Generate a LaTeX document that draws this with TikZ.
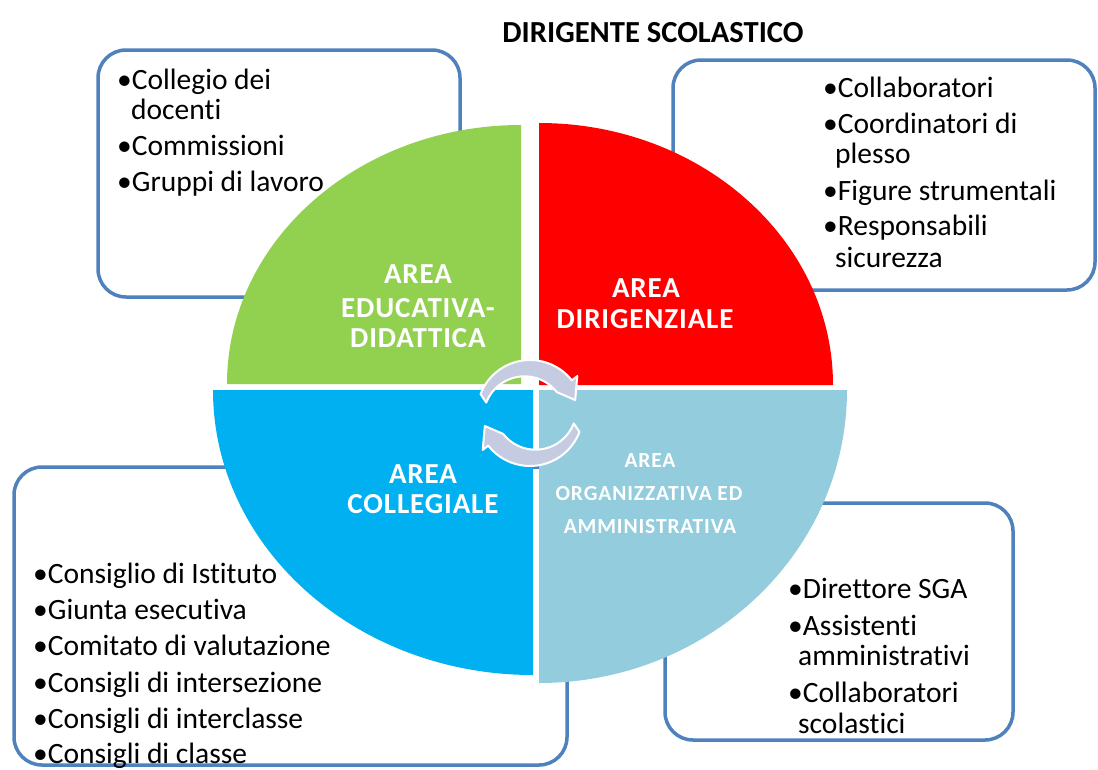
\documentclass[tikz,border=0pt]{standalone}
\usepackage{fontspec}
\setmainfont{Carlito}[Ligatures=NoCommon]
\newfontfamily\labelfont{Carlito}[LetterSpace=3, Ligatures=NoCommon]
\newfontfamily\smalllabelfont{Carlito}[LetterSpace=4, Ligatures=NoCommon]
\usetikzlibrary{calc}
\definecolor{boxblue}{HTML}{4F81BD}
\definecolor{qgreen}{HTML}{92D050}
\definecolor{qred}{HTML}{FF0000}
\definecolor{qblue}{HTML}{00B0F0}
\definecolor{qlight}{HTML}{93CDDD}
\definecolor{arrowc}{HTML}{C5CCE2}
\begin{document}
\begin{tikzpicture}[x=1pt,y=-1pt,
  infobox/.style={draw=boxblue, line width=3.5pt, rounded corners=28pt, fill=white},
  item/.style={anchor=base west, inner sep=0pt, font=\fontsize{29.5}{35}\selectfont},
  qlabel/.style={anchor=base, inner sep=0pt, text=white, font=\labelfont\bfseries\fontsize{29}{35}\selectfont},
  qsmall/.style={anchor=base, inner sep=0pt, text=white, font=\smalllabelfont\bfseries\fontsize{21.5}{26}\selectfont},
  cyclearrow/.style={fill=arrowc, draw=white, line width=2pt, line join=round}]
\useasboundingbox (0,0) rectangle (1098,769);
\fill[white] (0,0) rectangle (1098,769);

% title
\node[anchor=base, inner sep=0pt, font=\bfseries\fontsize{30.6}{36}\selectfont] (title) at (653,42) {DIRIGENTE SCOLASTICO};

% boxes
\draw[infobox] (98,50) rectangle (460,297);
\draw[infobox] (673,60) rectangle (1095,290);
\draw[infobox] (14,467) rectangle (567,765);
\draw[infobox] (665,503) rectangle (1013,740);

% quadrants
\fill[qgreen] (521,384) -- (227,384) arc[start angle=180, end angle=270, x radius=294, y radius=259] -- cycle;
\fill[qred] (539,385) -- (539,123) arc[start angle=270, end angle=360, x radius=294, y radius=262] -- cycle;
\fill[qblue] (533,390) -- (213,390) arc[start angle=180, end angle=90, x radius=320, y radius=285] -- cycle;
\fill[qlight] (539,390) -- (847,390) arc[start angle=0, end angle=90, x radius=308, y radius=293] -- cycle;

% quadrant labels
\node[qlabel] (g1) at (418,283) {AREA};
\node[qlabel] (g2) at (418,317) {EDUCATIVA-};
\node[qlabel] (g3) at (418,347) {DIDATTICA};
\node[qlabel] (r1) at (646,297) {AREA};
\node[qlabel] (r2) at (645,328) {DIRIGENZIALE};
\node[qlabel] (b1) at (423,483) {AREA};
\node[qlabel] (b2) at (423,513) {COLLEGIALE};
\node[qsmall] (l1) at (650,467) {AREA};
\node[qsmall] (l2) at (649,500) {ORGANIZZATIVA ED};
\node[qsmall] (l3) at (650,533) {AMMINISTRATIVA};

% cycle arrows
\coordinate (c) at (530,413);
\path[cyclearrow] ($(c)+(-159:53)$) arc[start angle=-159, end angle=-38, radius=53]
  -- ($(c)+(-38:60)$) -- ($(c)+(-16:47)$) -- ($(c)+(-38:34)$)
  arc[start angle=-38, end angle=-159, radius=41] -- cycle;
\begin{scope}[rotate around={180:(c)}]
\path[cyclearrow] ($(c)+(-159:53)$) arc[start angle=-159, end angle=-38, radius=53]
  -- ($(c)+(-38:60)$) -- ($(c)+(-16:47)$) -- ($(c)+(-38:34)$)
  arc[start angle=-38, end angle=-159, radius=41] -- cycle;
\end{scope}

% top-left items
\node[item] (tl1) at (117,89) {•Collegio dei};
\node[item] (tl2) at (131,119) {docenti};
\node[item] (tl3) at (117,155) {•Commissioni};
\node[item] (tl4) at (117,191) {•Gruppi di lavoro};

% top-right items
\node[item] (tr1) at (823,97) {•Collaboratori};
\node[item] (tr2) at (823,133) {•Coordinatori di};
\node[item] (tr3) at (835,163) {plesso};
\node[item] (tr4) at (823,200) {•Figure strumentali};
\node[item] (tr5) at (823,235) {•Responsabili};
\node[item] (tr6) at (835,267) {sicurezza};

% bottom-left items
\node[item] (bl1) at (33,583) {•Consiglio di Istituto};
\node[item] (bl2) at (33,619) {•Giunta esecutiva};
\node[item] (bl3) at (33,655) {•Comitato di valutazione};
\node[item] (bl4) at (33,692) {•Consigli di intersezione};
\node[item] (bl5) at (33,728) {•Consigli di interclasse};
\node[item] (bl6) at (33,763) {•Consigli di classe};

% bottom-right items
\node[item] (br1) at (788,598) {•Direttore SGA};
\node[item] (br2) at (788,635) {•Assistenti};
\node[item] (br3) at (798,665) {amministrativi};
\node[item] (br4) at (788,702) {•Collaboratori};
\node[item] (br5) at (798,733) {scolastici};
\end{tikzpicture}
\end{document}
